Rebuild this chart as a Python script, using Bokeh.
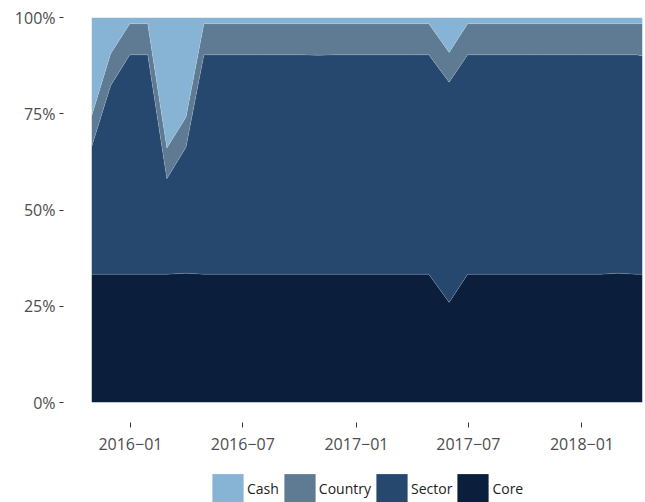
import numpy as np
import pandas as pd
from bokeh.plotting import figure
from bokeh.layouts import column
from bokeh.models import (ColumnDataSource, FixedTicker, DatetimeTickFormatter,
                          PrintfTickFormatter, Legend, LegendItem, Range1d)
from bokeh.embed import file_html
from bokeh.resources import INLINE

# ---- data (allocation weights, %) ----
dates = ["2015-10-30", "2015-11-30", "2015-12-31", "2016-01-29", "2016-02-29",
         "2016-03-31", "2016-04-29", "2016-05-31", "2016-06-30", "2016-07-29",
         "2016-08-31", "2016-09-30", "2016-10-31", "2016-11-30", "2016-12-30",
         "2017-01-31", "2017-02-28", "2017-03-31", "2017-04-28", "2017-05-31",
         "2017-06-30", "2017-07-31", "2017-08-31", "2017-09-29", "2017-10-31",
         "2017-11-30", "2017-12-29", "2018-01-31", "2018-02-28", "2018-03-30",
         "2018-04-09"]
core = [33.3, 33.3, 33.3, 33.3, 33.3, 33.6, 33.3, 33.3, 33.3, 33.3,
        33.3, 33.3, 33.3, 33.3, 33.3, 33.3, 33.3, 33.3, 33.3, 26.0,
        33.3, 33.3, 33.3, 33.3, 33.3, 33.3, 33.3, 33.3, 33.6, 33.3,
        33.3]
sector = [33.0, 49.0, 57.0, 57.0, 24.8, 32.7, 57.0, 57.0, 57.0, 57.0,
          57.0, 57.0, 56.9, 57.0, 57.0, 57.0, 57.0, 57.0, 57.0, 57.2,
          57.0, 57.0, 57.0, 57.0, 57.0, 57.0, 57.0, 57.0, 56.7, 57.0,
          56.7]
country = [8.0, 8.3, 8.1, 8.1, 8.0, 7.8, 8.1, 8.1, 8.1, 8.1,
           8.1, 8.1, 8.2, 8.1, 8.1, 8.1, 8.1, 8.1, 8.1, 7.7,
           8.1, 8.1, 8.1, 8.1, 8.1, 8.1, 8.1, 8.1, 8.1, 8.1,
           8.4]
cash = [25.7, 9.4, 1.6, 1.6, 33.9, 25.9, 1.6, 1.6, 1.6, 1.6,
        1.6, 1.6, 1.6, 1.6, 1.6, 1.6, 1.6, 1.6, 1.6, 9.1,
        1.6, 1.6, 1.6, 1.6, 1.6, 1.6, 1.6, 1.6, 1.6, 1.6,
        1.6]
series = ["Core", "Sector", "Country", "Cash"]
colors = ["#0b1f3d", "#26476e", "#5e7b93", "#87b4d4"]
legend_order = ["Cash", "Country", "Sector", "Core"]
x_tick_dates = ["2016-01-01", "2016-07-01", "2017-01-01", "2017-07-01", "2018-01-01"]
y_ticks = [0, 25, 50, 75, 100]

FONT = "Open Sans"

x = pd.to_datetime(dates)
data = dict(date=x, Core=core, Sector=sector, Country=country, Cash=cash)
cum = np.cumsum(np.array([core, sector, country, cash]), axis=0)
for name, row in zip(series, cum):
    data["top_" + name] = row
src = ColumnDataSource(data)

xr = Range1d(x[0].to_pydatetime(), x[-1].to_pydatetime())

# ---- main chart ----
p = figure(width=645, height=460, x_axis_type="datetime",
           output_backend="svg", toolbar_location=None,
           x_range=xr, y_range=Range1d(0, 100),
           min_border_left=91, min_border_top=17, min_border_right=3,
           min_border_bottom=58)
p.outline_line_color = None
p.grid.visible = False
p.background_fill_color = "white"

p.varea_stack(stackers=series, x="date", color=colors, source=src)
for name in series:
    p.line(x="date", y="top_" + name, source=src,
           line_color="#ffffff", line_alpha=0.25, line_width=0.6)

tick_ms = list((pd.to_datetime(x_tick_dates).astype("int64") // 10**6).astype(float))
p.xaxis.ticker = FixedTicker(ticks=tick_ms)
fmt = "%Y\u2212%m"
p.xaxis.formatter = DatetimeTickFormatter(days=fmt, months=fmt, years=fmt)
p.yaxis.ticker = FixedTicker(ticks=y_ticks)
p.yaxis.formatter = PrintfTickFormatter(format="%d%%")

for ax in (p.xaxis[0], p.yaxis[0]):
    ax.axis_line_color = None
    ax.minor_tick_line_color = None
    ax.major_tick_line_color = "#333333"
    ax.major_tick_line_width = 1
    ax.major_label_text_font = FONT
    ax.major_label_text_font_size = "16px"
    ax.major_label_text_color = "#4d4d4d"
# ticks sit away from the data panel
p.yaxis.major_tick_in = -28
p.yaxis.major_tick_out = 32
p.yaxis.major_label_standoff = 4
p.xaxis.major_tick_in = -20
p.xaxis.major_tick_out = 25
p.xaxis.major_label_standoff = 10

# ---- legend strip (its swatch renderers lie outside its visible range) ----
lg = figure(width=645, height=42, x_axis_type="datetime",
            output_backend="svg", toolbar_location=None,
            x_range=xr, y_range=Range1d(1000, 1100),
            x_axis_location=None, y_axis_location=None,
            min_border_left=0, min_border_right=0, min_border_top=0,
            min_border_bottom=0)
lg.outline_line_color = None
lg.grid.visible = False
lg_areas = lg.varea_stack(stackers=series, x="date", color=colors, source=src)
by_name = dict(zip(series, lg_areas))
items = [LegendItem(label=n, renderers=[by_name[n]]) for n in legend_order]
legend = Legend(items=items, orientation="horizontal", location=(117, -4),
                glyph_width=39, glyph_height=36, label_standoff=0, spacing=1,
                padding=0, margin=0, border_line_color=None,
                background_fill_alpha=0,
                label_text_font=FONT, label_text_font_size="14px",
                label_text_color="#222222")
lg.add_layout(legend, "center")

layout = column(p, lg, spacing=0)
open("out.html", "w").write(file_html(layout, INLINE))
